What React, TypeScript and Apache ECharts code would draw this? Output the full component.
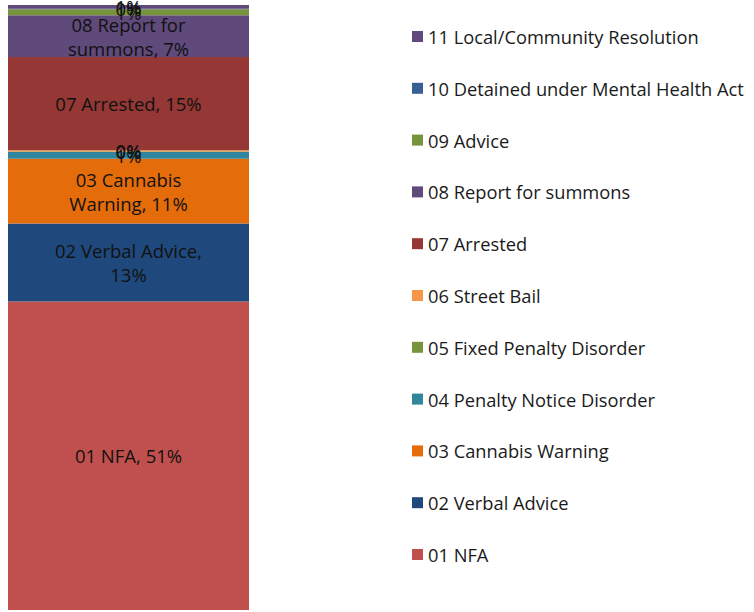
import React, { useEffect, useRef } from "react";
import * as echarts from "echarts";

const categories = ["Outcomes"];
const seriesNames = [
  "01 NFA",
  "02 Verbal Advice",
  "03 Cannabis Warning",
  "04 Penalty Notice Disorder",
  "05 Fixed Penalty Disorder",
  "06 Street Bail",
  "07 Arrested",
  "08 Report for summons",
  "09 Advice",
  "10 Detained under Mental Health Act",
  "11 Local/Community Resolution",
];
const seriesValues = [51.0, 12.9, 10.7, 1.1, 0.1, 0.2, 15.4, 6.9, 1.0, 0.1, 0.6];
const seriesLabels = [
  "01 NFA, 51%",
  "02 Verbal Advice,\n13%",
  "03 Cannabis\nWarning, 11%",
  "1%",
  "0%",
  "0%",
  "07 Arrested, 15%",
  "08 Report for\nsummons, 7%",
  "1%",
  "0%",
  "1%",
];
const colors = [
  "#C0504D",
  "#1F497D",
  "#E46C0A",
  "#31859C",
  "#77933C",
  "#F79646",
  "#953735",
  "#604A7B",
  "#77933C",
  "#376092",
  "#604A7B",
];

export default function App() {
  const ref = useRef<HTMLDivElement>(null);
  useEffect(() => {
    if (!ref.current) return;
    const chart = echarts.init(ref.current, undefined, { renderer: "svg" });
    const font = "'Open Sans', sans-serif";
    chart.setOption({
      animation: false,
      color: colors,
      grid: { left: 8, right: 505, top: 5, bottom: 2, containLabel: false },
      xAxis: { type: "category", data: categories, show: false },
      yAxis: { type: "value", min: 0, max: 100, show: false },
      legend: {
        orient: "vertical",
        left: 412,
        top: 26,
        padding: 0,
        itemWidth: 11,
        itemHeight: 11,
        itemGap: 30.8,
        icon: "rect",
        data: [...seriesNames].reverse(),
        textStyle: { fontFamily: font, fontSize: 18.3, color: "#1a1a1a", lineHeight: 21 },
      },
      series: seriesNames.map((name, i) => ({
        name,
        type: "bar",
        stack: "total",
        barWidth: 241,
        data: [seriesValues[i]],
        itemStyle: { color: colors[i] },
        label: {
          show: true,
          position: "inside",
          formatter: () => seriesLabels[i],
          color: "#111",
          fontFamily: font,
          fontSize: 18.5,
          lineHeight: 24,
          align: "center",
        },
        labelLayout: { hideOverlap: false },
      })),
    });
    return () => chart.dispose();
  }, []);
  return (
    <div
      ref={ref}
      style={{ position: "fixed", left: 0, top: 0, width: 754, height: 612, background: "#fff" }}
    />
  );
}
